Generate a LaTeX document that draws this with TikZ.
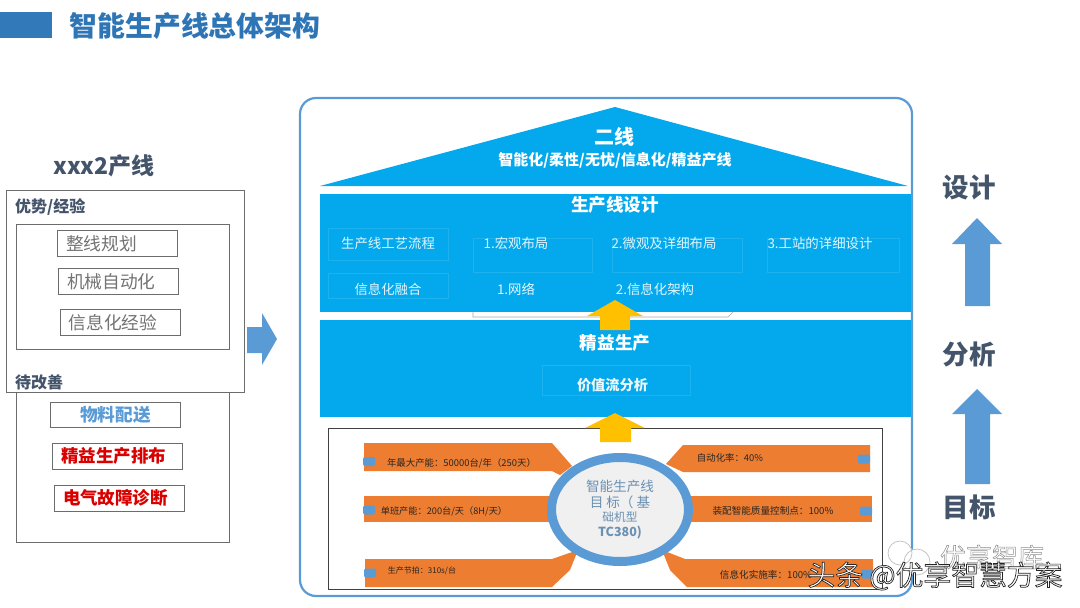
\documentclass[tikz,border=0pt]{standalone}
\usepackage{fontspec}
\setmainfont{Noto Sans CJK SC}
\usetikzlibrary{shapes.geometric}
\definecolor{skyband}{HTML}{03A9EC}
\definecolor{steelb}{HTML}{5B9BD5}
\definecolor{slate}{HTML}{44546A}
\definecolor{barorange}{HTML}{ED7D31}
\definecolor{goldup}{HTML}{FFC000}
\definecolor{titleb}{HTML}{2E75B6}
\newcommand{\fsz}[1]{\fontsize{#1}{#1}\selectfont}
\tikzset{
 lbl/.style={inner sep=0pt,font=\fsz{#1}},
 lblb/.style={inner sep=0pt,font=\fsz{#1}\bfseries},
 greybox/.style={draw=gray!85!black,line width=.9pt,fill=white,inner sep=0pt,minimum width=#1},
 faint/.style={draw=white!10!skyband,line width=.5pt,inner sep=0pt},
 tabmark/.style={fill=steelb,rounded corners=2pt,minimum width=12pt,minimum height=9pt,inner sep=0pt}
}
\begin{document}
\begin{tikzpicture}[x=1pt,y=-1pt]
 \useasboundingbox (0,0) rectangle (1080,608);
 \fill[titleb!90!steelb] (0,12) rectangle (52,38);
 \node[lblb=27.8,text=titleb] (title) at (195,26) {智能生产线总体架构};
 % left panel
 \node[lblb=23,text=slate] (linename) at (104,166) {xxx2产线};
 \node[draw=gray!85!black,line width=.9pt,minimum width=238pt,minimum height=202pt,inner sep=0pt] (advbox) at (125,291.5) {};
 \node[draw=gray!85!black,line width=.9pt,minimum width=212.5pt,minimum height=125pt,inner sep=0pt] (advinner) at (122.75,287) {};
 \node[draw=gray!85!black,line width=.9pt,minimum width=212.5pt,minimum height=150pt,inner sep=0pt] (todobox) at (122.75,467) {};
 \node[lblb=16,text=slate,anchor=west] (advlabel) at (15,207) {优势/经验};
 \node[lblb=16,text=slate,anchor=west] (todolabel) at (15,382) {待改善};
 \foreach \n/\cx/\cy/\t in {plan/117.5/243.5/整线规划,mech/118.5/281.5/机械自动化,info/120.25/322.5/信息化经验}
  \node[greybox=120pt,minimum height=25.5pt,lbl=17.7,text=gray!90!black,inner xsep=8.5pt,text width=103pt,align=left] (\n) at (\cx,\cy) {\t};
 \node[greybox=130pt,minimum height=25pt,lblb=17.7,text=steelb] (mat) at (115.5,414.5) {物料配送};
 \foreach \n/\cx/\cy/\t in {lean/117/456.25/精益生产排布,elec/119/498.25/电气故障诊断}
  \node[greybox=130pt,minimum height=25.5pt,lblb=17.5,text=red!85!black,inner xsep=9pt,text width=112pt,align=left] (\n) at (\cx,\cy) {\t};
 \fill[steelb] (247,327)--(262,327)--(262,313)--(277,339)--(262,365)--(262,353)--(247,353)--cycle;
 % house
 \draw[steelb,line width=2.2pt,rounded corners=16pt] (300,98) rectangle (912,596);
 \fill[skyband] (320,186)--(615,107)--(908,186)--cycle;
 \fill[skyband] (320,194) rectangle (911,312);
 \fill[skyband] (320,320) rectangle (911,417);
 \draw[gray!70,line width=.6pt] (473,312)--(473,317)--(728,317)--(733,312);
 \node[lblb=20,text=white] (roofa) at (614,137) {二线};
 \node[lblb=15,text=white] (roofb) at (615,160) {智能化/柔性/无忧/信息化/精益产线};
 \node[lblb=17.6,text=white] (design) at (615,205) {生产线设计};
 \foreach \n/\cx/\cy/\w/\h in {flow/388/244/120/32,macro/532.5/255/119/34,micro/677/255/130/34,station/833/255/132/34,merge/388/285.5/120/25}
  \node[faint,minimum width=\w pt,minimum height=\h pt] (\n) at (\cx,\cy) {};
 \foreach \n/\cx/\cy/\t in {flowt/388/243/生产线工艺流程,macrot/516/243/1.宏观布局,microt/664/243/2.微观及详细布局,stationt/820/243/3.工站的详细设计,merget/388/289/信息化融合,nett/516/289/1.网络,archt/655/289/2.信息化架构}
  \node[lbl=13.4,text=white!88!skyband] (\n) at (\cx,\cy) {\t};
 \node[lblb=17.6,text=white] (lean2) at (615,343) {精益生产};
 \node[faint,minimum width=148pt,minimum height=30pt] (vsm) at (616,380) {};
 \node[lblb=14.2,text=white!92!skyband] (vsmt) at (612.5,385) {价值流分析};
 \fill[goldup] (600,330)--(600,316)--(587,316)--(615,300)--(643,316)--(630,316)--(630,330)--cycle;
 \draw[black!75,line width=.7pt,fill=white] (328,428) rectangle (882,589);
 \fill[goldup] (600,442)--(600,428)--(585,428)--(615,413)--(645,428)--(631,428)--(631,442)--cycle;
 % goal bars
 \fill[barorange] (364,443)--(552,443)--(572,466)--(560,475)--(552,471)--(364,471)--cycle;
 \fill[barorange] (364,496)--(556,496)--(556,522)--(364,522)--cycle;
 \fill[barorange] (365,559)--(552,559)--(578,550)--(570,570)--(552,587)--(365,587)--cycle;
 \fill[barorange] (870,445)--(683,445)--(666,464)--(683,472)--(870,472)--cycle;
 \fill[barorange] (872,496)--(688,496)--(688,522)--(872,522)--cycle;
 \fill[barorange] (873,559)--(685,559)--(662,550)--(670,570)--(687,587)--(873,587)--cycle;
 \foreach \n/\cx/\cy in {taba/369/461.5,tabb/369/510,tabc/370/573,tabd/864/459,tabe/866/511,tabf/867/574}
  \node[tabmark] (\n) at (\cx,\cy) {};
 \foreach \n/\cx/\cy/\s/\t in {ga/461.5/463/9.4/{年最大产能：50000台/年（250天）},gb/444/511/9.2/{单班产能：200台/天（8H/天）},gc/422/571/8/{生产节拍：310s/台},gd/730/458/9.4/{自动化率：40\%},ge/773/511/9.6/{装配智能质量控制点：100\%},gf/766/575/9.6/{信息化实施率：100\%}}
  \node[lbl=\s,text=black!85] (\n) at (\cx,\cy) {\t};
 \node[ellipse,draw=steelb,line width=9pt,fill=black!6,minimum width=137pt,minimum height=104pt,inner sep=0pt,align=center,text=steelb!60!gray] (goal) at (620,509.5) {\fsz{13.6}智能生产线\\[2pt]\fsz{13.6}目 标（ 基\\[2pt]\fsz{11.7}础机型\\[2.5pt]\fsz{12.5}\bfseries TC380)};
 % right column
 \node[lblb=26.5,text=slate] (rda) at (969,188) {设计};
 \fill[steelb] (965,306)--(965,244)--(952,244)--(977,218)--(1002,244)--(990,244)--(990,306)--cycle;
 \node[lblb=26.5,text=slate] (rdb) at (969,354) {分析};
 \fill[steelb] (965,484)--(965,414)--(952,414)--(977,389)--(1002,414)--(990,414)--(990,484)--cycle;
 \node[lblb=26.5,text=slate] (rdc) at (969,507) {目标};
 % marks on top
 \draw[gray!50,line width=.7pt,fill=white] (900,553) circle (12) (917,562) circle (13);
 \node[lbl=26,text=white] (marka) at (992,557) {\special{pdf:code 2 Tr .5 w .55 G}优享智库\special{pdf:code 0 Tr}};
 \node[lbl=27.8,text=white] (markb) at (935,576) {\special{pdf:code 2 Tr .7 w .15 G}头条 @优享智慧方案\special{pdf:code 0 Tr}};
\end{tikzpicture}
\end{document}
